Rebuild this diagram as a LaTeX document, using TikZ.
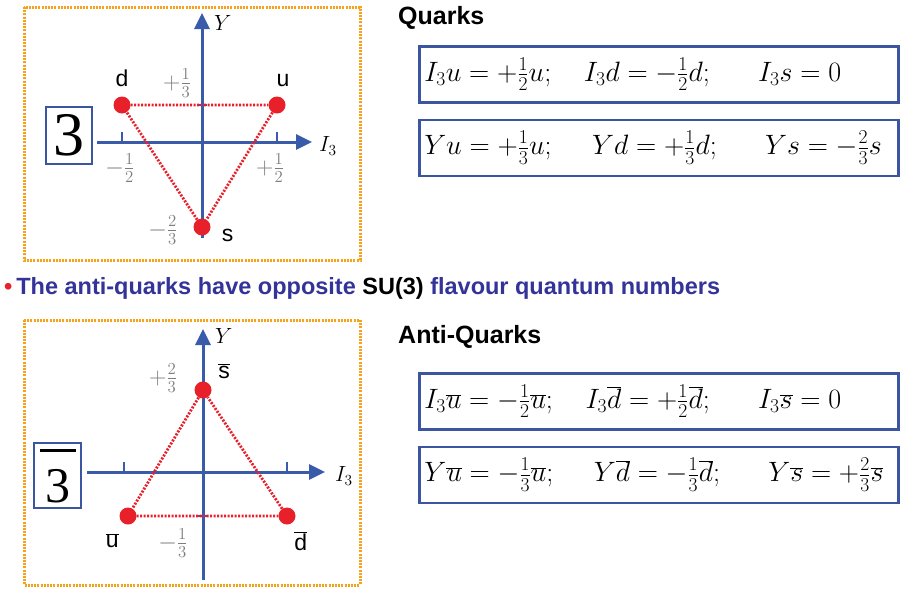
\RequirePackage{fix-cm}
\documentclass[tikz,border=0pt]{standalone}
\usepackage[no-math]{fontspec}
\setmainfont{Liberation Serif}
\setsansfont{Liberation Sans}
\usetikzlibrary{arrows.meta,positioning}
\definecolor{axiscol}{RGB}{58,91,169}
\definecolor{boxcol}{RGB}{59,85,160}
\definecolor{framecol}{RGB}{247,162,27}
\definecolor{dotcol}{RGB}{232,32,42}
\definecolor{headcol}{RGB}{51,51,153}
\definecolor{numcol}{RGB}{125,125,125}

\begin{document}
\begin{tikzpicture}[
  x=1pt, y=-1pt,
  frame/.style={draw=framecol, line width=3pt, dash pattern=on 2pt off 1.2pt},
  axis/.style={draw=axiscol, line width=3pt, -{Triangle[length=16pt,width=15pt]}},
  tickmk/.style={draw=axiscol, line width=2.5pt},
  qdot/.style={circle, fill=dotcol, minimum size=17pt, inner sep=0pt},
  tri/.style={draw=dotcol, line width=2.8pt, dash pattern=on 2pt off 1.5pt},
  qlbl/.style={font=\fontsize{23}{25}\sffamily, inner sep=1pt},
  numlbl/.style={font=\fontsize{24}{26}\selectfont, text=numcol, inner sep=1pt},
  axlbl/.style={font=\fontsize{22}{24}\selectfont, inner sep=1pt, anchor=west},
  repbox/.style={draw=boxcol, line width=2pt, inner sep=0pt},
  eqbox/.style={draw=boxcol, line width=2.5pt, text width=469pt, inner xsep=5pt,
                minimum height=56pt, align=left, anchor=north west,
                font=\fontsize{28}{32}\selectfont},
  head/.style={font=\fontsize{25}{27}\sffamily\bfseries, anchor=west, inner sep=0pt}
]
\useasboundingbox (0,0) rectangle (920,590);

%% Triplet (top panel)
\draw[frame] (24,7) rectangle (360,260);
\coordinate (xa0) at (97,142);
\coordinate (xa1) at (312,142);
\coordinate (ya0) at (202,238);
\coordinate (ya1) at (202,13);
\draw[axis] (xa0) -- (xa1);
\draw[axis] (ya0) -- (ya1);
\node[axlbl] (ylbl) at (213,23) {$Y$};
\node[axlbl] (i3lbl) at (318,146) {$I_3$};

\node[qdot] (d) at (122,105) {};
\node[qdot] (u) at (277,105) {};
\node[qdot] (s) at (202,227) {};
\draw[tickmk] (d |- xa0) -- ++(0,-10);
\draw[tickmk] (u |- xa0) -- ++(0,-10);
\draw[tickmk] (d -| ya0) ++(-5,0) -- ++(10,0);
\draw[tri] (d) -- (u) -- (s) -- (d);

\node[qlbl, above=8pt of d] (dlbl) {d};
\node[qlbl, above=8pt of u, xshift=6pt] (ulbl) {u};
\node[qlbl, right=10pt of s, yshift=-8pt] (slbl) {s};
\node[numlbl] (yp13) at (177,83) {$+\frac{1}{3}$};
\node[numlbl] (xm12) at (120,168) {$-\frac{1}{2}$};
\node[numlbl] (xp12) at (270,168) {$+\frac{1}{2}$};
\node[numlbl] (ym23) at (163,230) {$-\frac{2}{3}$};

\node[repbox, minimum width=46pt, minimum height=57pt,
      font=\fontsize{62}{62}\selectfont] (rep3) at (69,135.5) {3};

%% Quark relations
\node[head] (qhead) at (398,18) {Quarks};
\node[eqbox] (i3q) at (418,45)
  {$I_3u=+\frac{1}{2}u;\quad I_3d=-\frac{1}{2}d;\quad\;\; I_3s=0$};
\node[eqbox, below=15pt of i3q] (yq)
  {$Yu=+\frac{1}{3}u;\quad\; Yd=+\frac{1}{3}d;\quad\;\; Ys=-\frac{2}{3}s$};

%% Note line
\node[anchor=west, inner sep=0pt, text=headcol,
      font=\fontsize{23.5}{26}\sffamily\bfseries] (note) at (4,288)
  {{\color{dotcol}\textbullet}\,The anti-quarks have opposite
   {\color{black}SU(3)} flavour quantum numbers};

%% Anti-triplet (bottom panel)
\draw[frame] (24,320) rectangle (360,585);
\coordinate (xb0) at (87,472);
\coordinate (xb1) at (325,472);
\coordinate (yb0) at (203,580);
\coordinate (yb1) at (203,329);
\draw[axis] (xb0) -- (xb1);
\draw[axis] (yb0) -- (yb1);
\node[axlbl] (ylblb) at (214,336) {$Y$};
\node[axlbl] (i3lblb) at (334,476) {$I_3$};

\node[qdot] (sb) at (203,390) {};
\node[qdot] (ub) at (128,516) {};
\node[qdot] (db) at (287,516) {};
\draw[tickmk] (ub |- xb0) ++(-4,0) -- ++(0,-10);
\draw[tickmk] (db |- xb0) -- ++(0,-10);
\draw[tickmk] (ub -| yb0) ++(-5,0) -- ++(10,0);
\draw[tri] (ub) -- (db) -- (sb) -- (ub);

\node[qlbl, above right=4pt and 8pt of sb] (sblbl) {$\overline{\hbox{\sffamily s}}$};
\node[qlbl, below left=10pt and 2pt of ub] (ublbl) {$\overline{\hbox{\sffamily u}}$};
\node[qlbl, below right=8pt and 0pt of db] (dblbl) {$\overline{\hbox{\sffamily d}}$};
\node[numlbl] (yp23) at (163,378) {$+\frac{2}{3}$};
\node[numlbl] (ym13) at (173,543) {$-\frac{1}{3}$};

\node[repbox, minimum width=47pt, minimum height=65pt, align=center,
      font=\fontsize{50}{50}\selectfont] (rep3b) at (57.5,475.5)
  {\rule{36pt}{3.5pt}\\3};

%% Anti-quark relations
\node[head] (ahead) at (398,337) {Anti-Quarks};
\node[eqbox] (i3a) at (418,372)
  {$I_3\overline{u}=-\frac{1}{2}\overline{u};\quad I_3\overline{d}=+\frac{1}{2}\overline{d};\quad\;\; I_3\overline{s}=0$};
\node[eqbox, below=15pt of i3a] (yqa)
  {$Y\overline{u}=-\frac{1}{3}\overline{u};\quad\; Y\overline{d}=-\frac{1}{3}\overline{d};\quad\;\; Y\overline{s}=+\frac{2}{3}\overline{s}$};

\end{tikzpicture}
\end{document}
